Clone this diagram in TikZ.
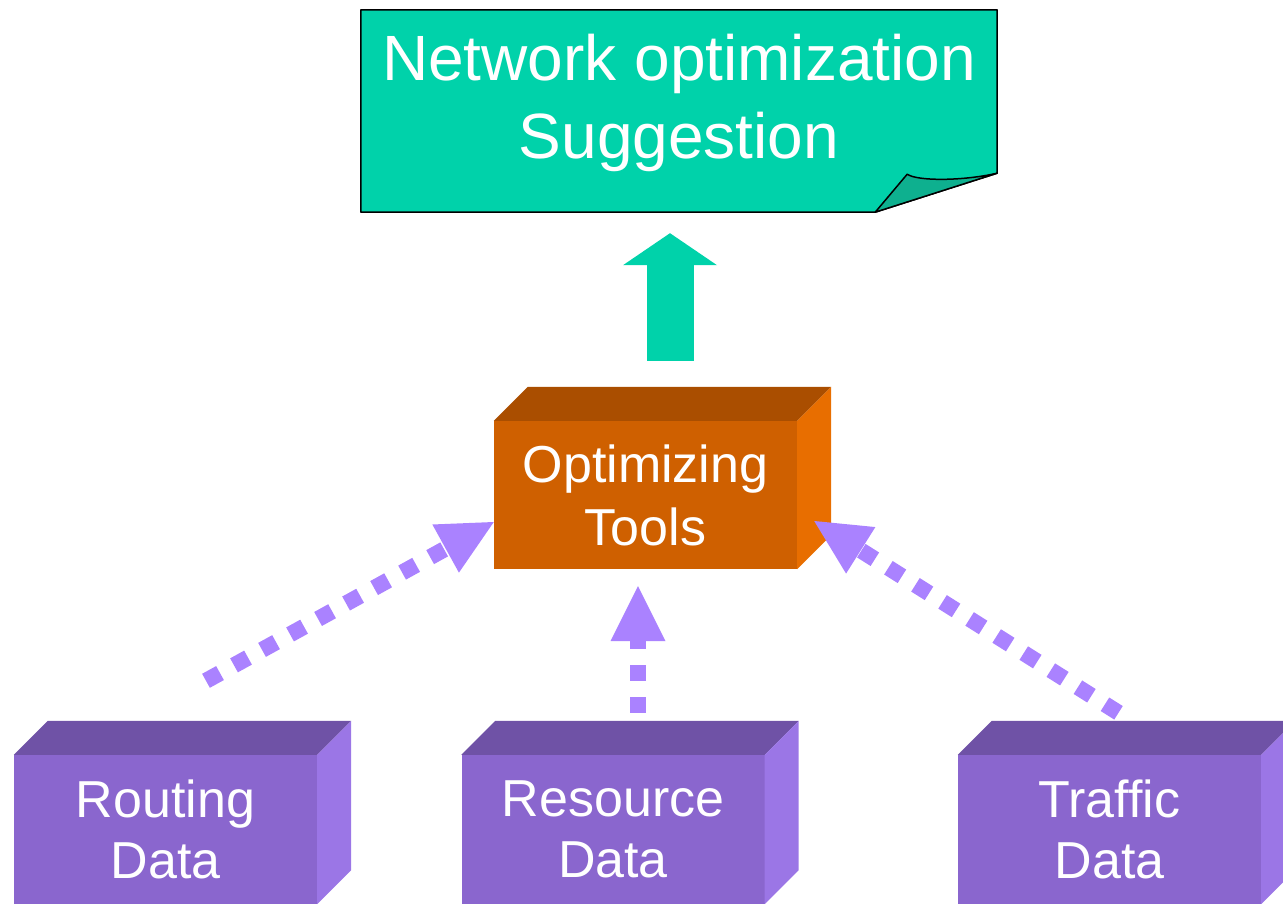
\documentclass[tikz,border=0pt]{standalone}
\usepackage{fontspec}
\setmainfont{Liberation Sans}
\usetikzlibrary{arrows.meta}

\definecolor{notefill}{RGB}{0,210,170}
\definecolor{notefold}{RGB}{14,176,143}
\definecolor{toolfront}{RGB}{207,96,0}
\definecolor{tooltop}{RGB}{170,78,0}
\definecolor{toolside}{RGB}{232,110,0}
\definecolor{datafront}{RGB}{138,102,206}
\definecolor{datatop}{RGB}{111,82,166}
\definecolor{dataside}{RGB}{155,118,230}
\definecolor{dotcol}{RGB}{170,130,255}

% top and right faces of a block whose front face is node #1
\newcommand\blockfaces[3]{%
  \fill[#2] (#1.north west) -- ++(34,-34) -- ([shift={(34,-34)}]#1.north east) -- (#1.north east) -- cycle;
  \fill[#3] (#1.north east) -- ++(34,-34) -- ([shift={(34,-34)}]#1.south east) -- (#1.south east) -- cycle;}

\begin{document}
\begin{tikzpicture}[x=1pt,y=-1pt,
  face/.style={rectangle, inner sep=0pt, minimum width=303pt, minimum height=148pt,
    text=white, align=center},
  toolface/.style={face, fill=toolfront, font=\fontsize{52}{63}\selectfont},
  dataface/.style={face, fill=datafront, minimum height=149pt, font=\fontsize{52}{61}\selectfont},
  notebox/.style={rectangle, inner sep=0pt, minimum width=636pt, minimum height=202pt},
  notelabel/.style={text=white, align=center, inner sep=0pt, font=\fontsize{64}{78}\selectfont},
  dotarrow/.style={draw=dotcol, line width=16pt, dash pattern=on 16pt off 16pt,
    -{Triangle[width=55pt,length=55pt,line width=0pt]}},
  bigarrow/.style={draw=notefill, line width=47pt,
    -{Triangle[width=94pt,length=32pt,line width=0pt]}},
]
\useasboundingbox (0,0) rectangle (1283,904);
\clip (0,0) rectangle (1283,904);

% suggestion note with curled corner
\node[notebox] (note) at (679,111) {};
\filldraw[fill=notefill, draw=black, line width=1.5pt, line join=round]
  (note.north west) -- (note.north east) -- ([yshift=39pt]note.south east)
  -- ([xshift=-122pt]note.south east) -- (note.south west) -- cycle;
\filldraw[fill=notefold, draw=black, line width=1.5pt, line join=round]
  ([xshift=-122pt]note.south east) -- ([shift={(-90,-38)}]note.south east)
  .. controls ([shift={(-80,-31)}]note.south east) and ([shift={(-35,-31)}]note.south east)
  .. ([yshift=39pt]note.south east) -- cycle;
\node[notelabel] (notetext) at ([yshift=8.5pt]note.center) {Network optimization\\Suggestion};

% tool block
\node[toolface] (tools) at (645.5,495) {Optimizing\\Tools};
\blockfaces{tools}{tooltop}{toolside}

% data blocks
\node[dataface] (routing) at (165.5,829.5) {Routing\\Data};
\node[dataface] (resource) at (613,829.5) {Resource\\Data};
\node[dataface] (traffic) at (1109.5,829.5) {Traffic\\Data};
\blockfaces{routing}{datatop}{dataside}
\blockfaces{resource}{datatop}{dataside}
\blockfaces{traffic}{datatop}{dataside}

% flows
\draw[bigarrow] ([xshift=24.5pt,yshift=60pt]tools.north) -- ([xshift=-9pt,yshift=-21pt]note.south);
\draw[dotarrow] ([xshift=40.5pt,yshift=74pt]routing.north) -- ([yshift=-27pt]tools.west);
\draw[dotarrow] ([xshift=25pt,yshift=42pt]resource.north) -- ([xshift=-7.5pt,yshift=-17pt]tools.south);
\draw[dotarrow] ([xshift=9pt,yshift=42pt]traffic.north) -- ([xshift=17pt,yshift=-26pt]tools.east);
\end{tikzpicture}
\end{document}
